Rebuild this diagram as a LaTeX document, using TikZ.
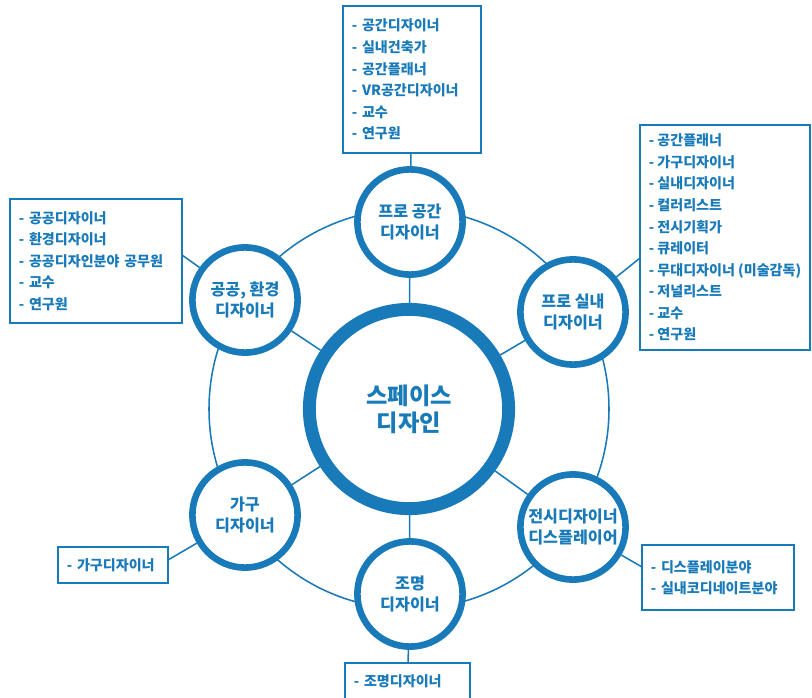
\documentclass[tikz,border=0pt]{standalone}
\usepackage{fontspec}
\setmainfont{Noto Sans CJK KR}
\usetikzlibrary{backgrounds}
\definecolor{spaceblue}{RGB}{24,122,184}

\begin{document}
\begin{tikzpicture}[x=0.025cm, y=-0.025cm,
        every node/.style={text=spaceblue},
        link/.style={draw=spaceblue, line width=1.1pt},
        job/.style={circle, draw=spaceblue, line width=4.7pt, fill=white,
            inner sep=0pt, minimum size=2.63cm, align=center,
            font=\fontsize{11.5}{14.7}\selectfont\bfseries},
        hub/.style={circle, draw=spaceblue, line width=9.2pt, fill=white,
            inner sep=0pt, minimum size=4.98cm, align=center,
            font=\fontsize{16.5}{19}\selectfont\bfseries},
        listbox/.style={rectangle, draw=spaceblue, line width=1.3pt, fill=white,
            inner xsep=0.225cm, inner ysep=0pt, align=left,
            font=\fontsize{10}{15.3}\selectfont\bfseries}]
    \useasboundingbox (0,0) rectangle (812,698);
    \clip (0,0) rectangle (812,698);

    \node[hub] (hub) at (409,409) {스페이스\\디자인};

    \node[job] (spatial) at (410,222) {프로 공간\\디자이너};
    \node[job] (interior) at (573,312) {프로 실내\\디자이너};
    \node[job] (exhibit) at (573,527) {전시디자이너\\디스플레이어};
    \node[job] (lighting) at (410,594) {조명\\디자이너};
    \node[job] (furniture) at (245,515) {가구\\디자이너};
    \node[job] (public) at (245,300) {공공, 환경\\디자이너};

    \node[listbox, minimum width=3.45cm, minimum height=3.675cm, text width=3cm]
        (spatialjobs) at (412,79.5)
        {- 공간디자이너\\- 실내건축가\\- 공간플래너\\- VR공간디자이너\\- 교수\\- 연구원};
    \node[listbox, minimum width=4.25cm, minimum height=5.625cm, inner xsep=0.2cm]
        (interiorjobs) at (725,237.5)
        {- 공간플래너\\- 가구디자이너\\- 실내디자이너\\- 컬러리스트\\- 전시기획가\\- 큐레이터\\- 무대디자이너 (미술감독)\\- 저널리스트\\- 교수\\- 연구원};
    \node[listbox, minimum width=4.3cm, minimum height=3.1cm, text width=3.85cm]
        (publicjobs) at (96,261)
        {- 공공디자이너\\- 환경디자이너\\- 공공디자인분야 공무원\\- 교수\\- 연구원};
    \node[listbox, minimum width=2.75cm, minimum height=0.9cm, text width=2.3cm]
        (furniturejobs) at (113,565) {- 가구디자이너};
    \node[listbox, minimum width=3.8cm, minimum height=1.625cm, text width=3.35cm]
        (exhibitjobs) at (718,577.5) {- 디스플레이분야\\- 실내코디네이트분야};
    \node[listbox, minimum width=3.125cm, minimum height=0.925cm, text width=2.675cm]
        (lightingjobs) at (407.5,681.5) {- 조명디자이너};

    \coordinate (interiorend) at (640,258);
    \coordinate (publicend) at (182,255);
    \coordinate (furnitureend) at (168,560);
    \coordinate (exhibitend) at (642,567);

    \begin{scope}[on background layer]
        \draw[link] (hub) circle [radius=200];
        \foreach \sat in {spatial, interior, exhibit, lighting, furniture, public}
            \draw[link] (hub) -- (\sat);
        \draw[link] (spatialjobs) -- (spatial);
        \draw[link] (interiorend) -- (interior);
        \draw[link] (publicend) -- (public);
        \draw[link] (furnitureend) -- (furniture);
        \draw[link] (exhibitend) -- (exhibit);
        \draw[link] (lightingjobs) -- (lighting);
    \end{scope}
\end{tikzpicture}
\end{document}
